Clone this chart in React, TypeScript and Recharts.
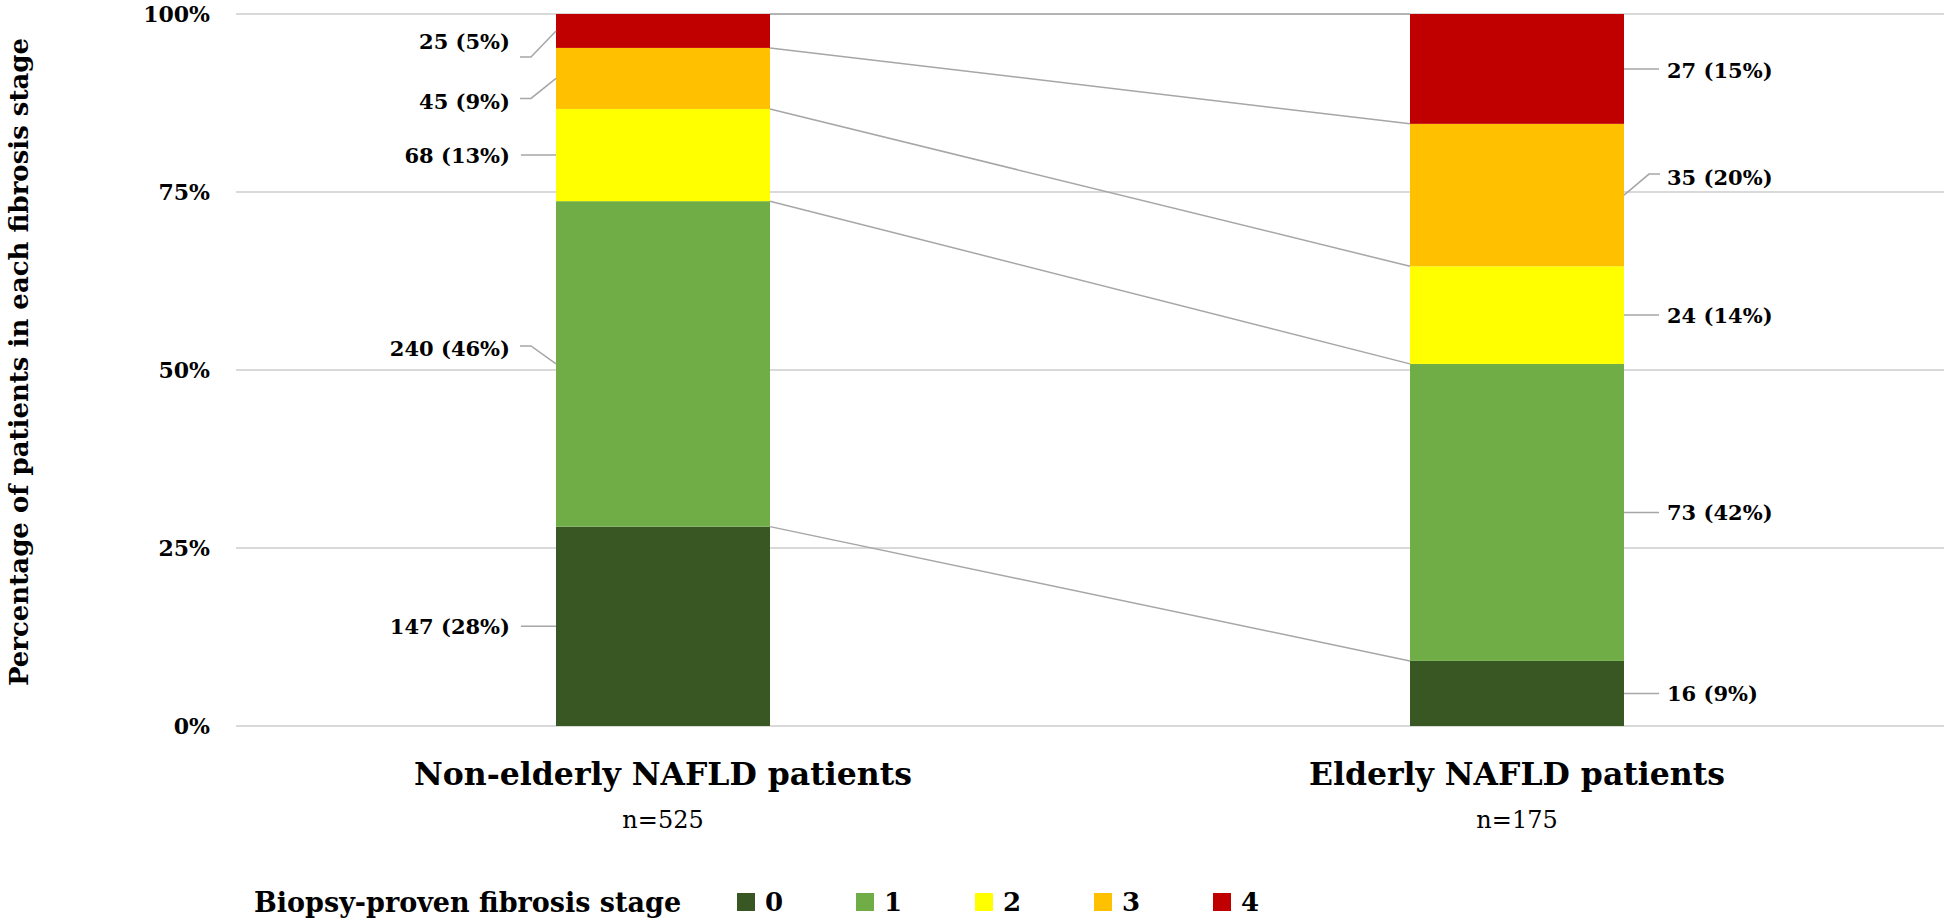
import React from 'react'
import {
  BarChart,
  Bar,
  XAxis,
  YAxis,
  CartesianGrid,
  Legend,
  ReferenceLine
} from 'recharts'

const groups = ['Non-elderly NAFLD patients', 'Elderly NAFLD patients']
const sampleSizes = [525, 175]
const stageNames = ['0', '1', '2', '3', '4']
const stage0 = [147, 16]
const stage1 = [240, 73]
const stage2 = [68, 24]
const stage3 = [45, 35]
const stage4 = [25, 27]
const yTicks = [0, 0.25, 0.5, 0.75, 1]

const stages = [stage0, stage1, stage2, stage3, stage4]
const stageColors = ['#385723', '#70AD47', '#FFFF00', '#FFC000', '#C00000']

const FONT = '"DejaVu Serif", serif'
const BAR_W = 214
const LEADER = '#a6a6a6'

// crowded labels are pushed off the segment centre: [leader dy, text dy]
const labelNudge: Record<string, [number, number]> = {
  '4-0': [26, 11],
  '3-0': [20, 23],
  '1-0': [-18, -15],
  '4-1': [0, 2],
  '3-1': [-21, -18]
}

const data = groups.map((g, i) => {
  const row: Record<string, string | number> = { group: g }
  stages.forEach((s, k) => {
    row['s' + k] = s[i]
  })
  return row
})

const totals = groups.map((_, i) => stages.reduce((a, s) => a + s[i], 0))

// share at the top of each stage, for the series lines between the bars
const cumShare = stages.map((_, k) =>
  groups.map((_, i) => stages.slice(0, k + 1).reduce((a, s) => a + s[i], 0) / totals[i])
)

const StageBar = (props: any) => {
  const { x, y, width, height, index, fill, stage } = props
  const count = stages[stage][index]
  const pct = Math.round((count / totals[index]) * 100)
  const cy = y + height / 2
  const [ldy, tdy] = labelNudge[`${stage}-${index}`] ?? [0, 0]
  const left = index === 0
  const edge = left ? x : x + width
  const dir = left ? -1 : 1
  const leader =
    ldy === 0
      ? `M${edge},${cy} L${edge + dir * 35},${cy}`
      : `M${edge},${cy} L${edge + dir * 25},${cy + ldy} L${edge + dir * 36},${cy + ldy}`
  return (
    <g>
      <rect x={x} y={y} width={width} height={height} fill={fill} />
      <path d={leader} stroke={LEADER} strokeWidth={1.5} fill="none" />
      <text
        x={edge + dir * (left ? 46 : 43)}
        y={cy + tdy}
        textAnchor={left ? 'end' : 'start'}
        dominantBaseline="central"
        fontFamily={FONT}
        fontWeight="bold"
        fontSize={21}
        fill="#000"
      >
        {`${count} (${pct}%)`}
      </text>
    </g>
  )
}

const SeriesLine = (p: any) => (
  <line
    x1={p.x1 + BAR_W / 2}
    y1={p.y1}
    x2={p.x2 - BAR_W / 2}
    y2={p.y2}
    stroke={LEADER}
    strokeWidth={1.5}
  />
)

const GroupTick = (props: any) => {
  const { x, y, payload } = props
  return (
    <g>
      <text x={x} y={y + 51} textAnchor="middle" fontFamily={FONT} fontWeight="bold" fontSize={31.5} fill="#000">
        {payload.value}
      </text>
      <text x={x} y={y + 94} textAnchor="middle" fontFamily={FONT} fontSize={24} fill="#000">
        n={sampleSizes[payload.index]}
      </text>
    </g>
  )
}

const YTitle = (props: any) => {
  const vb = props.viewBox
  const cx = vb.x + 19
  const cy = vb.y + vb.height / 2 - 8
  return (
    <text
      x={cx}
      y={cy}
      transform={`rotate(-90 ${cx} ${cy})`}
      textAnchor="middle"
      dominantBaseline="central"
      fontFamily={FONT}
      fontWeight="bold"
      fontSize={26}
      fill="#000"
    >
      Percentage of patients in each fibrosis stage
    </text>
  )
}

const renderLegend = (props: any) => {
  const items = [...(props.payload ?? [])].sort((a, b) => String(a.value).localeCompare(String(b.value)))
  return (
    <div
      style={{
        height: 40,
        display: 'flex',
        alignItems: 'center',
        paddingLeft: 254,
        fontFamily: FONT,
        fontWeight: 'bold',
        color: '#000'
      }}
    >
      <span style={{ display: 'inline-block', width: 483, fontSize: 27 }}>Biopsy-proven fibrosis stage</span>
      {items.map((e: any) => (
        <span key={e.value} style={{ display: 'inline-flex', alignItems: 'center', width: 119, fontSize: 26 }}>
          <span style={{ display: 'inline-block', width: 18, height: 18, background: e.color, marginRight: 10 }} />
          {e.value}
        </span>
      ))}
    </div>
  )
}

export default function App() {
  return (
    <div style={{ position: 'absolute', left: 0, top: 0, width: 1946, height: 922, background: '#fff' }}>
      <BarChart
        width={1946}
        height={922}
        data={data}
        stackOffset="expand"
        margin={{ top: 14, right: 2, bottom: 0, left: 0 }}
      >
        <CartesianGrid vertical={false} stroke="#d9d9d9" strokeWidth={2} />
        <XAxis
          dataKey="group"
          axisLine={false}
          tickLine={false}
          height={156}
          interval={0}
          tick={GroupTick}
        />
        <YAxis
          width={236}
          domain={[0, 1]}
          ticks={yTicks}
          tickFormatter={(v: number) => `${Math.round(v * 100)}%`}
          axisLine={false}
          tickLine={false}
          tickMargin={20}
          tick={{ fontFamily: FONT, fontWeight: 'bold', fontSize: 22, fill: '#000' }}
          label={YTitle}
        />
        {cumShare.map((c, k) => (
          <ReferenceLine
            key={'sl' + k}
            segment={[
              { x: groups[0], y: c[0] },
              { x: groups[1], y: c[1] }
            ]}
            shape={SeriesLine}
          />
        ))}
        {stages.map((_, k) => (
          <Bar
            key={'s' + k}
            dataKey={'s' + k}
            name={stageNames[k]}
            stackId="a"
            fill={stageColors[k]}
            barSize={BAR_W}
            isAnimationActive={false}
            shape={(p: any) => <StageBar {...p} stage={k} />}
          />
        ))}
        <Legend
          verticalAlign="bottom"
          content={renderLegend}
          wrapperStyle={{ left: 0, bottom: 0, width: 1946, height: 40 }}
        />
      </BarChart>
    </div>
  )
}
